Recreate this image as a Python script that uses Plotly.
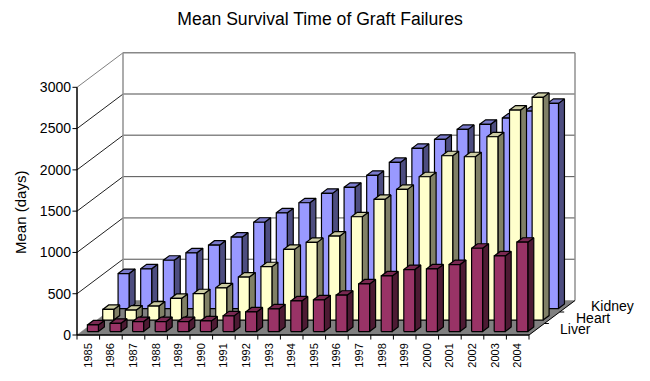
import plotly.graph_objects as go

years = [str(y) for y in range(1985, 2005)]
liver = [80, 100, 121, 121, 121, 129, 190, 238, 275, 371, 384, 440, 577, 674, 751, 759, 811, 1009, 916, 1082]
heart = [129, 121, 170, 262, 319, 391, 521, 646, 856, 941, 1017, 1251, 1461, 1583, 1736, 1990, 1978, 2220, 2543, 2697]
kidney = [424, 481, 585, 675, 767, 864, 1045, 1159, 1281, 1395, 1468, 1613, 1770, 1940, 2049, 2170, 2231, 2307, 2392, 2485]
y_ticks = [0, 500, 1000, 1500, 2000, 2500, 3000]
series_names = ["Liver", "Heart", "Kidney"]

# Oblique projection (slot units on x, days on y)
PX_X = 22.6
PX_Y = 247.7 / 3000
DX = 46 / PX_X
DY = 34.5 / PX_Y
N = len(years)
BAR_GAP = 5.8 / PX_X
BAR_W = 11 / PX_X
ROW_START = [0.1, 0.433, 0.767]
ROW_DEPTH = 0.13


def proj(x, y, d):
    return x + d * DX, y + d * DY


def add_poly(fig, xs, ys, fill, line="#000000", width=1.2, dash="solid"):
    fig.add_trace(go.Scatter(x=xs, y=ys, mode="lines", fill="toself", fillcolor=fill,
                             line=dict(color=line, width=width, dash=dash), hoverinfo="skip", showlegend=False))


def add_line(fig, xs, ys, color="black", width=1):
    fig.add_trace(go.Scatter(x=xs, y=ys, mode="lines", line=dict(color=color, width=width),
                             hoverinfo="skip", showlegend=False))


fig = go.Figure()

# floor
fx, fy = [], []
for x, d in [(0, 0), (N, 0), (N, 1), (0, 1), (0, 0)]:
    a, b = proj(x, 0, d)
    fx.append(a)
    fy.append(b)
add_poly(fig, fx, fy, "#808080", line="#808080", width=0.5)

# walls and gridlines
grid_styles = {500: ("#505050", 1), 1000: ("#505050", 1), 1500: ("#505050", 1), 2000: ("#888888", 1.5),
               2500: ("#888888", 1.5), 3000: ("#888888", 1.5)}
for v in y_ticks[1:]:
    c, w = grid_styles[v]
    x0, y0 = proj(0, v, 1)
    x1, y1 = proj(N, v, 1)
    add_line(fig, [x0, x1], [y0, y1], c, w)
    add_line(fig, [0, x0], [v, y0], "#808080" if v == 3000 else "#202020", 1)
for x in (0, N):
    x0, y0 = proj(x, 0, 1)
    x1, y1 = proj(x, 3000, 1)
    add_line(fig, [x0, x1], [y0, y1], "#909090", 1.5)

# bars: back row first
palette = [("#993366", "#7A2952", "#4D1A33"), ("#FFFFCC", "#CCCCA3", "#808066"), ("#9999FF", "#7A7ACC", "#4D4D80")]
rows = [liver, heart, kidney]
for r in (2, 1, 0):
    front_c, top_c, side_c = palette[r]
    d0 = ROW_START[r]
    d1 = d0 + ROW_DEPTH
    faces = {"side": ([], []), "top": ([], []), "front": ([], [])}
    for i, v in enumerate(rows[r]):
        l = i + BAR_GAP
        rt = l + BAR_W
        quads = {
            "front": [(l, 0, d0), (rt, 0, d0), (rt, v, d0), (l, v, d0)],
            "top": [(l, v, d0), (rt, v, d0), (rt, v, d1), (l, v, d1)],
            "side": [(rt, 0, d0), (rt, 0, d1), (rt, v, d1), (rt, v, d0)],
        }
        for k, q in quads.items():
            for p in q + [q[0]]:
                a, b = proj(*p)
                faces[k][0].append(a)
                faces[k][1].append(b)
            faces[k][0].append(None)
            faces[k][1].append(None)
    add_poly(fig, *faces["side"], side_c)
    add_poly(fig, *faces["top"], top_c)
    add_poly(fig, *faces["front"], front_c)

# axes drawn inside the projection
add_line(fig, [0, 0], [0, 3000], "black", 1.5)
add_line(fig, [0, N], [0, 0], "black", 1.5)
xe, ye = proj(N, 0, 1)
add_line(fig, [N, xe], [0, ye], "black", 1)
for v in y_ticks:
    add_line(fig, [-0.2, 0], [v, v], "black", 1)
for i in range(N + 1):
    add_line(fig, [i, i], [0, -55], "black", 1)
for k in (1, 2):
    a, b = proj(N, 0, k / 3)
    add_line(fig, [a, a + 0.2], [b, b], "black", 1)

annotations = []
for k, name in enumerate(series_names):
    a, b = proj(N, 0, (k + 0.5) / 3)
    annotations.append(dict(x=a, y=b, text=name, showarrow=False, xanchor="left", yanchor="middle",
                            xshift=21.5, font=dict(size=14, color="black", family="Liberation Sans")))
annotations.append(dict(xref="paper", yref="paper", x=-0.103, y=0.441, text="Mean (days)", textangle=-90,
                        showarrow=False, xanchor="center", yanchor="middle",
                        font=dict(size=15, color="black", family="Liberation Sans")))

LEFT, RIGHT, TOP, BOTTOM = 72, 578, 50, 340
fig.update_layout(
    width=650, height=381,
    margin=dict(l=LEFT, r=650 - RIGHT, t=TOP, b=381 - BOTTOM),
    paper_bgcolor="white", plot_bgcolor="white", showlegend=False,
    title=dict(text="Mean Survival Time of Graft Failures", x=320 / 650, xanchor="center", y=1 - 19 / 381,
               yanchor="middle", font=dict(size=17.6, color="black", family="Liberation Sans")),
    annotations=annotations,
    xaxis=dict(range=[(LEFT - 77) / PX_X, (RIGHT - 77) / PX_X], showgrid=False, zeroline=False, showline=False,
               tickmode="array", tickvals=[i + 0.5 for i in range(N)], ticktext=years, tickangle=-90, ticks="",
               tickfont=dict(size=11, color="black", family="Liberation Sans")),
    yaxis=dict(range=[(335 - BOTTOM) / PX_Y, (335 - TOP) / PX_Y], showgrid=False, zeroline=False, showline=False,
               tickmode="array", tickvals=y_ticks, ticktext=[str(v) for v in y_ticks], ticks="",
               tickfont=dict(size=14, color="black", family="Liberation Sans")),
)
fig.write_html("out.html", config=dict(displayModeBar=False),
               post_script="document.body.style.margin='0';document.body.style.overflow='hidden';")
